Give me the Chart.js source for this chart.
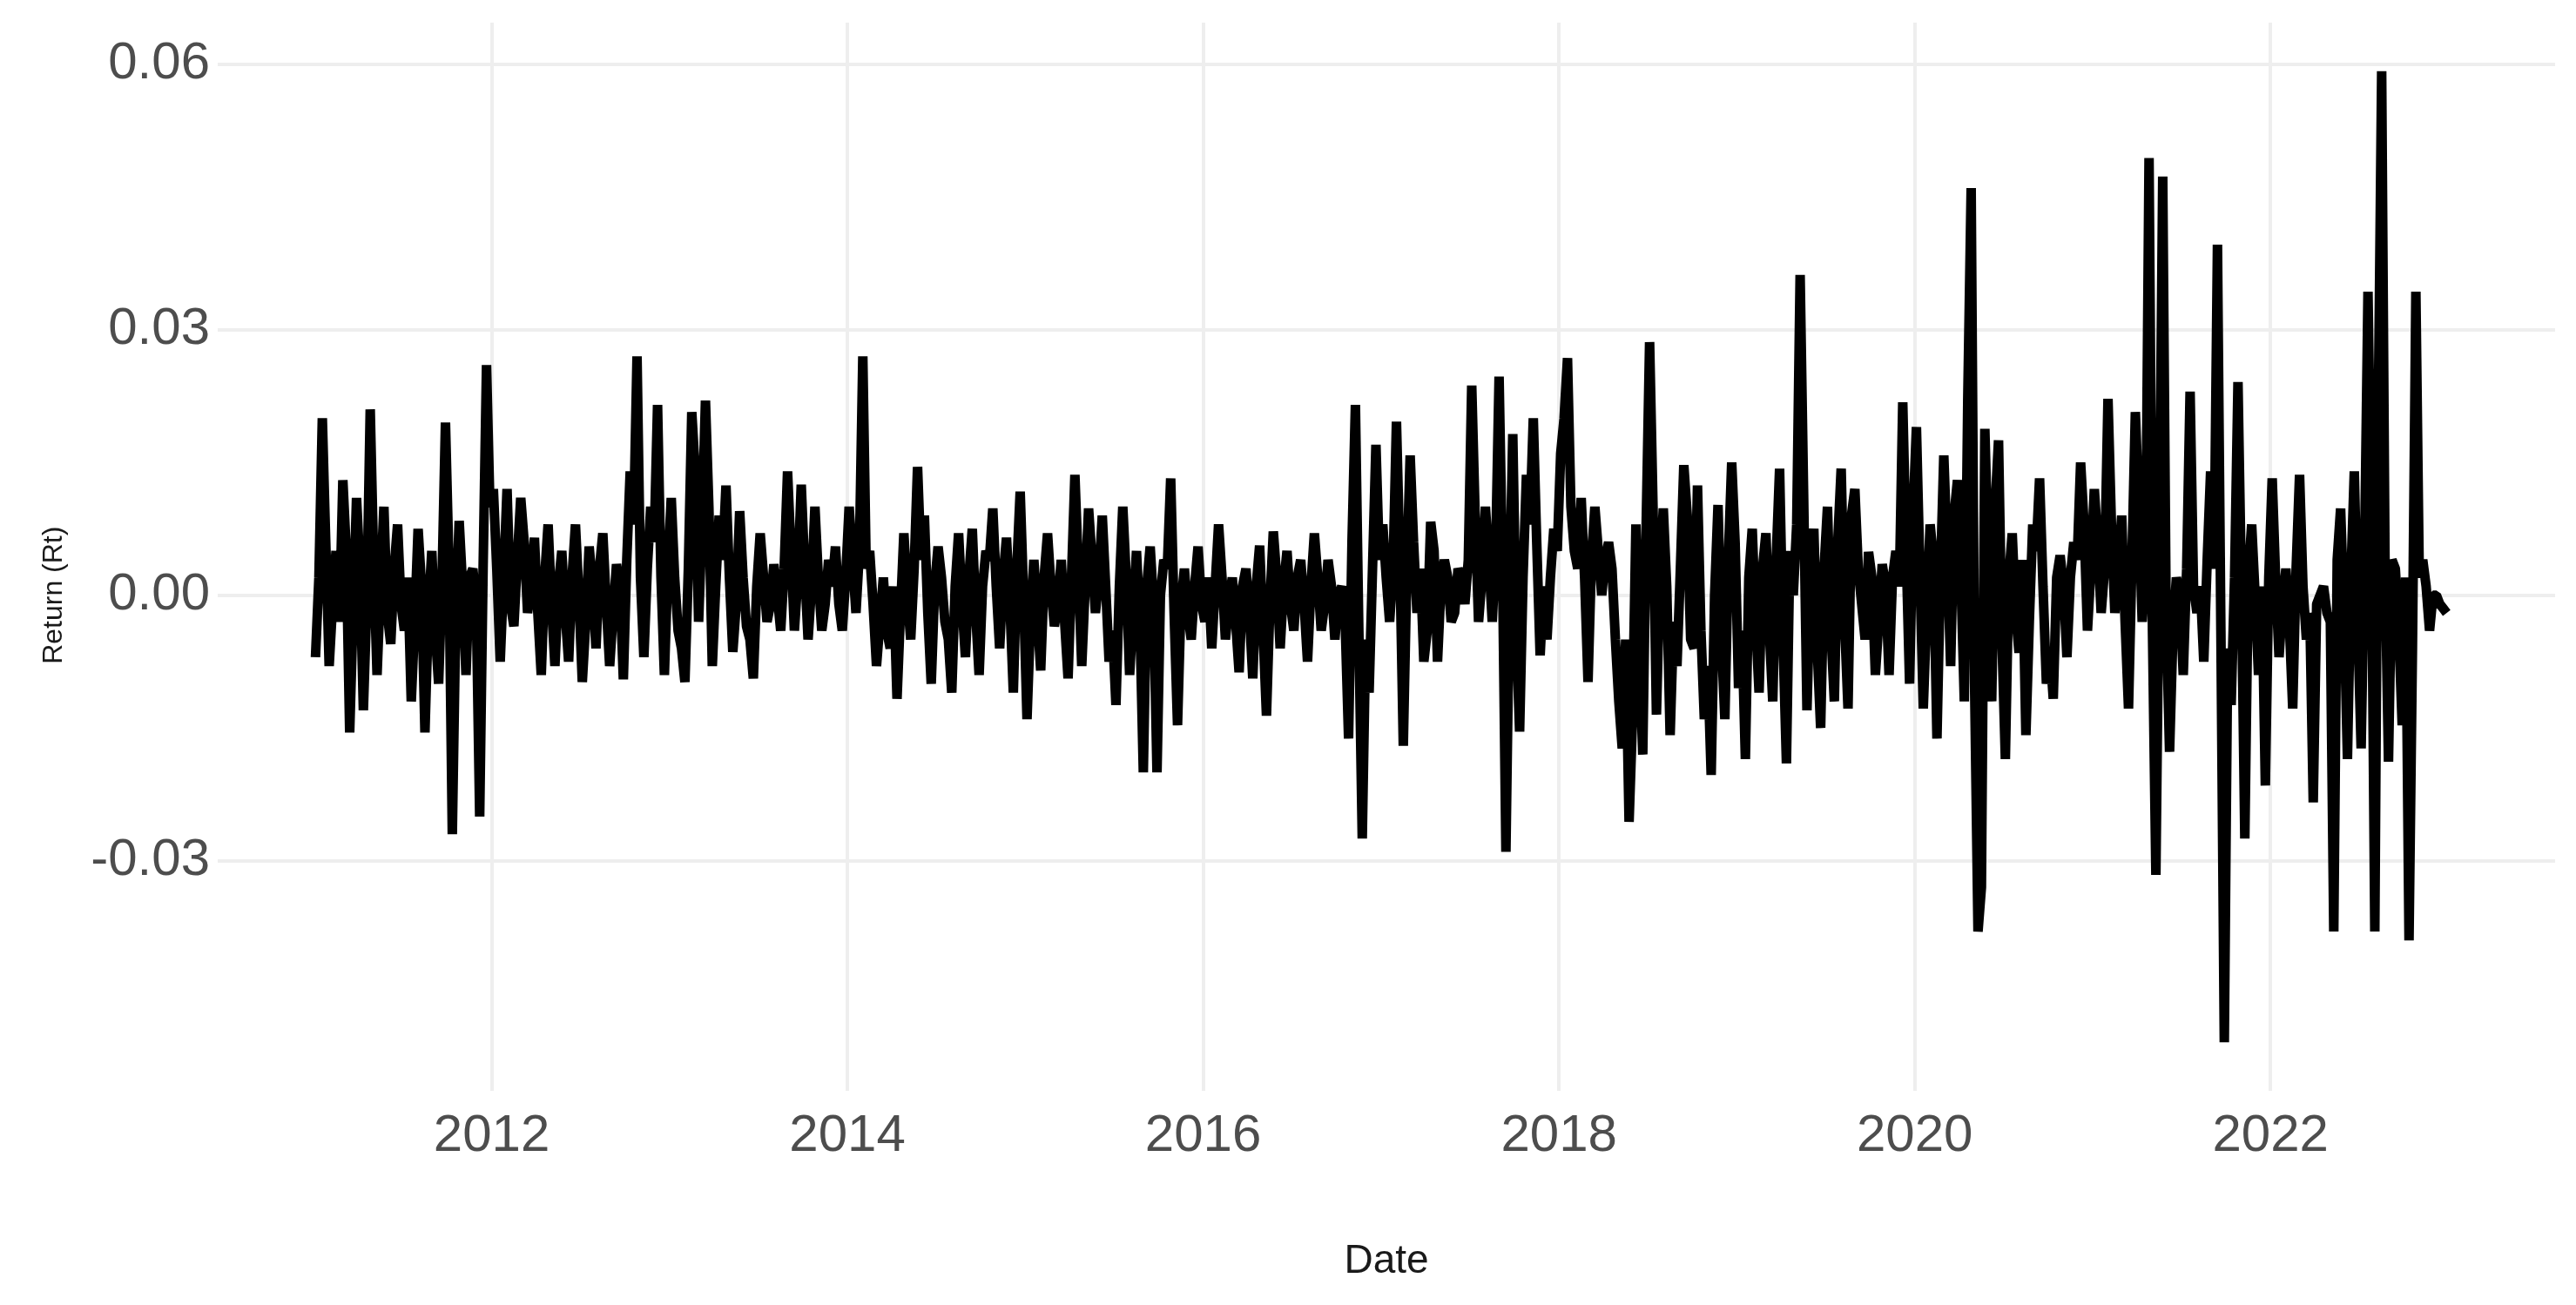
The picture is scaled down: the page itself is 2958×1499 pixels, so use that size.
<!DOCTYPE html>
<html>
<head>
<meta charset="utf-8">
<title>Return (Rt)</title>
<script src="https://cdn.jsdelivr.net/npm/chart.js@4.4.1/dist/chart.umd.min.js"></script>
<style>
    html, body { margin: 0; padding: 0; background: #fff; }
    #wrap { width: 2958px; height: 1499px; }
</style>
</head>
<body>
<div id="wrap"><canvas id="canvas"></canvas></div>
<script>
// weekly returns, 52 readings per year
var years = [2011, 2012, 2013, 2014, 2015, 2016, 2017, 2018, 2019, 2020, 2021, 2022];

var ret2011 = [-0.0070, 0.0020, 0.0200, 0.0060, -0.0080, -0.0010, 0.0050, -0.0030, 0.0130, 0.0050, -0.0155, -0.0020, 0.0110, 0.0030, -0.0130, -0.0010, 0.0210, 0.0040, -0.0090, 0.0010, 0.0100, -0.0020, -0.0055, 0.0030, 0.0080, -0.0010, -0.0040, 0.0020, -0.0120, -0.0030, 0.0075, 0.0010, -0.0155, -0.0020, 0.0050, -0.0040, -0.0100, 0.0020, 0.0195, 0.0040, -0.0270, -0.0030, 0.0084, 0.0010, -0.0090, 0.0020, 0.0030, -0.0010, -0.0250, 0.0030, 0.0260, 0.0100];
var ret2012 = [0.0120, 0.0030, -0.0075, 0.0020, 0.0120, -0.0010, -0.0035, 0.0040, 0.0110, 0.0060, -0.0020, 0.0010, 0.0065, -0.0020, -0.0090, 0.0020, 0.0080, -0.0010, -0.0080, 0.0010, 0.0050, -0.0020, -0.0075, 0.0020, 0.0080, 0.0000, -0.0098, -0.0030, 0.0055, 0.0010, -0.0060, 0.0030, 0.0070, -0.0010, -0.0080, -0.0020, 0.0035, 0.0010, -0.0095, 0.0040, 0.0140, 0.0080, 0.0270, 0.0020, -0.0070, 0.0030, 0.0100, 0.0060, 0.0215, 0.0020, -0.0090, 0.0030];
var ret2013 = [0.0110, 0.0020, -0.0040, -0.0060, -0.0098, 0.0030, 0.0207, 0.0140, -0.0030, 0.0080, 0.0220, 0.0100, -0.0080, 0.0010, 0.0090, 0.0040, 0.0124, 0.0020, -0.0064, -0.0010, 0.0095, 0.0020, -0.0035, -0.0050, -0.0094, 0.0010, 0.0070, 0.0020, -0.0030, -0.0010, 0.0035, 0.0000, -0.0040, 0.0030, 0.0140, 0.0050, -0.0040, 0.0020, 0.0125, 0.0030, -0.0050, 0.0010, 0.0100, 0.0020, -0.0040, -0.0010, 0.0040, 0.0010, 0.0055, -0.0010, -0.0040, 0.0020];
var ret2014 = [0.0100, 0.0040, -0.0020, 0.0050, 0.0270, 0.0030, 0.0050, -0.0010, -0.0080, -0.0030, 0.0020, -0.0040, -0.0060, 0.0010, -0.0117, -0.0020, 0.0070, 0.0000, -0.0050, 0.0030, 0.0145, 0.0040, 0.0090, -0.0020, -0.0100, 0.0010, 0.0055, 0.0020, -0.0030, -0.0050, -0.0110, 0.0010, 0.0070, -0.0010, -0.0070, 0.0020, 0.0075, -0.0020, -0.0090, 0.0010, 0.0050, 0.0040, 0.0098, 0.0010, -0.0060, 0.0020, 0.0065, -0.0010, -0.0110, 0.0030, 0.0117, 0.0000];
var ret2015 = [-0.0140, -0.0030, 0.0040, -0.0020, -0.0085, 0.0020, 0.0070, 0.0010, -0.0035, -0.0010, 0.0040, -0.0030, -0.0094, 0.0020, 0.0136, 0.0030, -0.0080, 0.0010, 0.0098, 0.0040, -0.0020, 0.0020, 0.0090, 0.0010, -0.0075, -0.0040, -0.0124, 0.0010, 0.0100, 0.0020, -0.0090, -0.0020, 0.0050, -0.0030, -0.0200, 0.0010, 0.0055, -0.0010, -0.0200, 0.0000, 0.0040, 0.0030, 0.0132, -0.0020, -0.0147, -0.0010, 0.0030, -0.0020, -0.0050, 0.0010, 0.0055, -0.0010];
var ret2016 = [-0.0030, 0.0020, -0.0060, 0.0010, 0.0080, 0.0020, -0.0050, -0.0010, 0.0020, -0.0030, -0.0087, 0.0010, 0.0030, -0.0020, -0.0094, 0.0010, 0.0056, -0.0040, -0.0136, -0.0010, 0.0072, 0.0020, -0.0060, 0.0010, 0.0050, -0.0010, -0.0040, 0.0020, 0.0040, -0.0010, -0.0075, 0.0010, 0.0070, 0.0020, -0.0040, -0.0010, 0.0040, 0.0010, -0.0050, 0.0000, 0.0010, -0.0030, -0.0162, 0.0060, 0.0215, -0.0040, -0.0275, -0.0050, -0.0110, 0.0030, 0.0170, 0.0040];
var ret2017 = [0.0080, 0.0020, -0.0030, 0.0030, 0.0196, 0.0040, -0.0170, 0.0020, 0.0158, 0.0060, -0.0020, 0.0030, -0.0075, -0.0040, 0.0083, 0.0050, -0.0075, 0.0010, 0.0040, 0.0020, -0.0030, -0.0020, 0.0030, 0.0020, -0.0010, 0.0040, 0.0237, 0.0090, -0.0030, 0.0020, 0.0100, 0.0040, -0.0030, 0.0050, 0.0247, 0.0030, -0.0290, -0.0010, 0.0182, -0.0040, -0.0154, 0.0020, 0.0136, 0.0080, 0.0200, 0.0060, -0.0068, 0.0010, -0.0050, 0.0020, 0.0075, 0.0050];
var ret2018 = [0.0160, 0.0200, 0.0268, 0.0100, 0.0050, 0.0030, 0.0110, 0.0020, -0.0098, 0.0040, 0.0100, 0.0050, 0.0000, 0.0040, 0.0060, 0.0030, -0.0050, -0.0120, -0.0173, -0.0050, -0.0256, -0.0140, 0.0080, -0.0060, -0.0180, 0.0080, 0.0286, 0.0100, -0.0135, 0.0020, 0.0098, 0.0010, -0.0158, -0.0030, -0.0080, 0.0030, 0.0147, 0.0090, -0.0050, -0.0060, 0.0124, -0.0040, -0.0140, -0.0080, -0.0203, 0.0000, 0.0102, -0.0050, -0.0140, 0.0040, 0.0150, 0.0060];
var ret2019 = [-0.0105, -0.0040, -0.0185, 0.0020, 0.0075, -0.0030, -0.0110, 0.0030, 0.0070, -0.0040, -0.0120, 0.0040, 0.0143, -0.0050, -0.0190, 0.0050, 0.0000, 0.0080, 0.0362, 0.0120, -0.0130, 0.0020, 0.0075, -0.0060, -0.0150, 0.0030, 0.0100, -0.0040, -0.0120, 0.0060, 0.0143, -0.0030, -0.0128, 0.0090, 0.0120, 0.0030, -0.0010, -0.0050, 0.0049, 0.0020, -0.0090, -0.0030, 0.0035, 0.0010, -0.0090, 0.0020, 0.0050, 0.0010, 0.0218, 0.0050, -0.0100, 0.0090];
var ret2020 = [0.0190, 0.0030, -0.0128, -0.0020, 0.0080, 0.0040, -0.0162, 0.0020, 0.0158, 0.0050, -0.0080, 0.0090, 0.0130, 0.0020, -0.0120, 0.0220, 0.0460, -0.0100, -0.0380, -0.0330, 0.0188, 0.0040, -0.0120, 0.0100, 0.0175, -0.0050, -0.0185, 0.0020, 0.0070, -0.0020, -0.0065, 0.0040, -0.0158, -0.0030, 0.0080, 0.0050, 0.0132, 0.0010, -0.0100, -0.0060, -0.0117, 0.0020, 0.0045, 0.0010, -0.0070, 0.0020, 0.0060, 0.0040, 0.0150, 0.0080, -0.0040, 0.0030];
var ret2021 = [0.0120, 0.0060, -0.0020, 0.0030, 0.0222, 0.0080, -0.0020, 0.0030, 0.0090, -0.0030, -0.0128, 0.0040, 0.0207, 0.0100, -0.0030, 0.0030, 0.0494, -0.0040, -0.0316, 0.0050, 0.0473, -0.0020, -0.0177, -0.0040, 0.0020, 0.0000, -0.0090, 0.0030, 0.0230, 0.0010, -0.0020, 0.0010, -0.0075, 0.0040, 0.0140, 0.0030, 0.0396, -0.0040, -0.0505, -0.0060, -0.0124, 0.0020, 0.0241, 0.0010, -0.0275, 0.0020, 0.0080, 0.0000, -0.0090, 0.0010, -0.0215, 0.0020];
var ret2022 = [0.0132, 0.0020, -0.0070, -0.0010, 0.0030, -0.0030, -0.0128, 0.0030, 0.0136, 0.0010, -0.0050, -0.0020, -0.0234, -0.0010, 0.0000, 0.0010, -0.0020, -0.0030, -0.0380, 0.0040, 0.0098, -0.0020, -0.0185, 0.0020, 0.0140, -0.0030, -0.0173, 0.0050, 0.0343, 0.0080, -0.0380, 0.0200, 0.0592, 0.0030, -0.0188, 0.0040, 0.0030, -0.0040, -0.0147, 0.0020, -0.0390, -0.0060, 0.0343, 0.0020, 0.0040, 0.0010, -0.0040, 0.0000, 0.0000, -0.0010, -0.0015, -0.0020];

var xTicks = [2012, 2014, 2016, 2018, 2020, 2022];
var yTicks = [-0.03, 0.00, 0.03, 0.06];

var yearly = [ret2011, ret2012, ret2013, ret2014, ret2015, ret2016,
              ret2017, ret2018, ret2019, ret2020, ret2021, ret2022];

// one point per reading, placed in the middle of its week
var points = [];
years.forEach(function(yr, k) {
    var vals = yearly[k];
    for (var i = 0; i < vals.length; i++) {
        points.push({ x: yr + (i + 0.5) / vals.length, y: vals[i] });
    }
});

var tickFont = { family: 'Liberation Sans', size: 60 };

// y axis title sits a little below the middle of the axis in the original,
// so it is drawn by hand next to the tick labels
var yTitlePlugin = {
    id: 'yTitle',
    afterDraw: function(chart) {
        var ctx = chart.ctx;
        var yScale = chart.scales.y;
        ctx.save();
        ctx.translate(62, yScale.getPixelForValue(0));
        ctx.rotate(-Math.PI / 2);
        ctx.fillStyle = '#1a1a1a';
        ctx.font = '32px "Liberation Sans"';
        ctx.textAlign = 'center';
        ctx.textBaseline = 'middle';
        ctx.fillText('Return (Rt)', 0, 0);
        ctx.restore();
    }
};

var config = {
    type: 'line',
    data: {
        datasets: [{
            data: points,
            borderColor: '#000000',
            borderWidth: 11,
            borderJoinStyle: 'bevel',
            pointRadius: 0,
            tension: 0,
            fill: false
        }]
    },
    options: {
        responsive: true,
        maintainAspectRatio: false,
        animation: false,
        layout: { padding: { left: 0, right: 24, top: 26, bottom: 0 } },
        plugins: {
            legend: { display: false },
            tooltip: { enabled: false }
        },
        scales: {
            x: {
                type: 'linear',
                min: 2010.46,
                max: 2023.6,
                afterBuildTicks: function(axis) {
                    axis.ticks = xTicks.map(function(v) { return { value: v }; });
                },
                afterFit: function(axis) { axis.height = 246; },
                ticks: {
                    color: '#4d4d4d',
                    font: tickFont,
                    padding: 16,
                    maxRotation: 0,
                    callback: function(v) { return String(v); }
                },
                grid: { color: '#eeeeee', lineWidth: 4, drawTicks: false },
                border: { display: false },
                title: {
                    display: true,
                    text: 'Date',
                    color: '#1a1a1a',
                    font: { family: 'Liberation Sans', size: 46 },
                    padding: { top: 0, bottom: 22 }
                }
            },
            y: {
                min: -0.056,
                max: 0.0647,
                afterBuildTicks: function(axis) {
                    axis.ticks = yTicks.map(function(v) { return { value: v }; });
                },
                afterFit: function(axis) {
                    axis.width = 250;
                    axis.paddingTop = 0;
                    axis.paddingBottom = 0;
                },
                ticks: {
                    color: '#4d4d4d',
                    font: tickFont,
                    padding: 9,
                    callback: function(v) { return v.toFixed(2); }
                },
                grid: { color: '#eeeeee', lineWidth: 4, drawTicks: false },
                border: { display: false }
            }
        }
    },
    plugins: [yTitlePlugin]
};

window.onload = function() {
    window.myLine = new Chart(document.getElementById('canvas'), config);
};
</script>
</body>
</html>
